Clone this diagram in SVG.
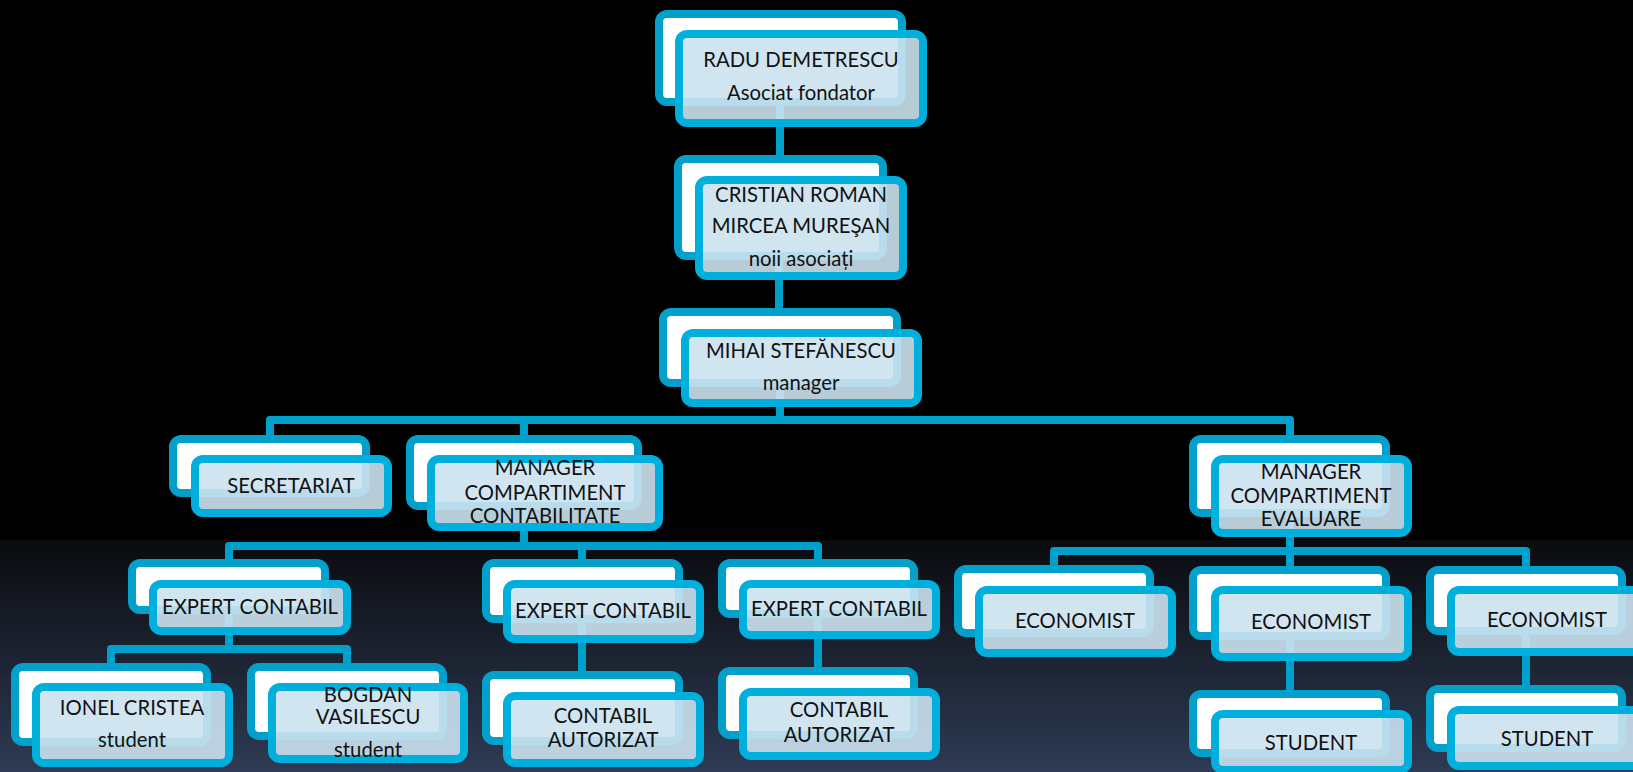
<svg xmlns="http://www.w3.org/2000/svg" width="1633" height="772" viewBox="0 0 1633 772">
<defs>
<linearGradient id="bg" x1="0" y1="0" x2="0" y2="772" gradientUnits="userSpaceOnUse">
<stop offset="0" stop-color="#000"/>
<stop offset="0.699" stop-color="#000"/>
<stop offset="0.70" stop-color="#0a0b0f"/>
<stop offset="1" stop-color="#2e3b54"/>
</linearGradient>
<style>
.back{fill:#fff;stroke:#03a0cc;stroke-width:8}
.front{fill:#cce2f0;fill-opacity:0.9;stroke:#00afdc;stroke-width:8}
.conn{fill:none;stroke:#00a0cc;stroke-width:8;stroke-linejoin:round;stroke-linecap:butt}
text{font-family:Lato,"Noto Sans",sans-serif;font-size:20.3px;text-anchor:middle;fill:#111}
</style>
</defs>
<rect x="0" y="0" width="1633" height="772" fill="url(#bg)"/>
<g id="connectors">
<path class="conn" d="M780 106V155M779 260V308M780 387V420"/>
<path class="conn" d="M270 435V420H1290V435M524 420V435"/>
<path class="conn" d="M524 510V546M229 559V546H818V559M582 546V559"/>
<path class="conn" d="M229 614V649M111 663V649H347V663"/>
<path class="conn" d="M582 623V671M818 618V667"/>
<path class="conn" d="M1290 517V551M1054 566V551H1526V566M1290 551V566"/>
<path class="conn" d="M1290 640V690M1526 635V685"/>
</g>
<g id="n1"><rect class="back" x="659" y="14" width="243" height="88" rx="8"/><rect class="front" x="679" y="34" width="244" height="89" rx="8"/><text x="801" y="67">RADU DEMETRESCU</text><text x="801" y="100">Asociat fondator</text></g>
<g id="n2"><rect class="back" x="678" y="159" width="205" height="97" rx="8"/><rect class="front" x="699" y="180" width="204" height="96" rx="8"/><text x="801" y="202">CRISTIAN ROMAN</text><text x="801" y="233">MIRCEA MUREŞAN</text><text x="801" y="266">noii asociați</text></g>
<g id="n3"><rect class="back" x="663" y="312" width="234" height="71" rx="8"/><rect class="front" x="685" y="333" width="233" height="70" rx="8"/><text x="801" y="358">MIHAI STEFĂNESCU</text><text x="801" y="390">manager</text></g>
<g id="n4"><rect class="back" x="173" y="439" width="193" height="54" rx="8"/><rect class="front" x="195" y="459" width="193" height="54" rx="8"/><text x="291" y="493">SECRETARIAT</text></g>
<g id="n5"><rect class="back" x="410" y="439" width="228" height="67" rx="8"/><rect class="front" x="431" y="459" width="228" height="68" rx="8"/><text x="545" y="475">MANAGER</text><text x="545" y="500">COMPARTIMENT</text><text x="545" y="523">CONTABILITATE</text></g>
<g id="n6"><rect class="back" x="1193" y="439" width="193" height="74" rx="8"/><rect class="front" x="1215" y="459" width="193" height="74" rx="8"/><text x="1311" y="479">MANAGER</text><text x="1311" y="503">COMPARTIMENT</text><text x="1311" y="526">EVALUARE</text></g>
<g id="n7"><rect class="back" x="132" y="563" width="193" height="47" rx="8"/><rect class="front" x="153" y="584" width="194" height="47" rx="8"/><text x="250" y="614">EXPERT CONTABIL</text></g>
<g id="n8"><rect class="back" x="486" y="563" width="193" height="56" rx="8"/><rect class="front" x="507" y="584" width="193" height="55" rx="8"/><text x="603" y="618">EXPERT CONTABIL</text></g>
<g id="n9"><rect class="back" x="722" y="563" width="192" height="51" rx="8"/><rect class="front" x="743" y="584" width="193" height="51" rx="8"/><text x="839" y="616">EXPERT CONTABIL</text></g>
<g id="n10"><rect class="back" x="958" y="569" width="192" height="64" rx="8"/><rect class="front" x="979" y="590" width="193" height="63" rx="8"/><text x="1075" y="628">ECONOMIST</text></g>
<g id="n11"><rect class="back" x="1193" y="570" width="193" height="66" rx="8"/><rect class="front" x="1215" y="590" width="193" height="67" rx="8"/><text x="1311" y="629">ECONOMIST</text></g>
<g id="n12"><rect class="back" x="1430" y="570" width="192" height="61" rx="8"/><rect class="front" x="1451" y="590" width="193" height="62" rx="8"/><text x="1547" y="627">ECONOMIST</text></g>
<g id="n13"><rect class="back" x="15" y="667" width="192" height="75" rx="8"/><rect class="front" x="36" y="687" width="193" height="76" rx="8"/><text x="132" y="715">IONEL CRISTEA</text><text x="132" y="747">student</text></g>
<g id="n14"><rect class="back" x="251" y="667" width="192" height="69" rx="8"/><rect class="front" x="272" y="687" width="192" height="72" rx="8"/><text x="368" y="702">BOGDAN</text><text x="368" y="724">VASILESCU</text><text x="368" y="757">student</text></g>
<g id="n15"><rect class="back" x="486" y="675" width="193" height="66" rx="8"/><rect class="front" x="507" y="696" width="193" height="67" rx="8"/><text x="603" y="723">CONTABIL</text><text x="603" y="747">AUTORIZAT</text></g>
<g id="n16"><rect class="back" x="722" y="671" width="192" height="64" rx="8"/><rect class="front" x="743" y="692" width="193" height="64" rx="8"/><text x="839" y="717">CONTABIL</text><text x="839" y="742">AUTORIZAT</text></g>
<g id="n17"><rect class="back" x="1193" y="694" width="193" height="59" rx="8"/><rect class="front" x="1215" y="714" width="193" height="56" rx="8"/><text x="1311" y="750">STUDENT</text></g>
<g id="n18"><rect class="back" x="1430" y="689" width="192" height="59" rx="8"/><rect class="front" x="1451" y="710" width="193" height="56" rx="8"/><text x="1547" y="746">STUDENT</text></g>
</svg>
